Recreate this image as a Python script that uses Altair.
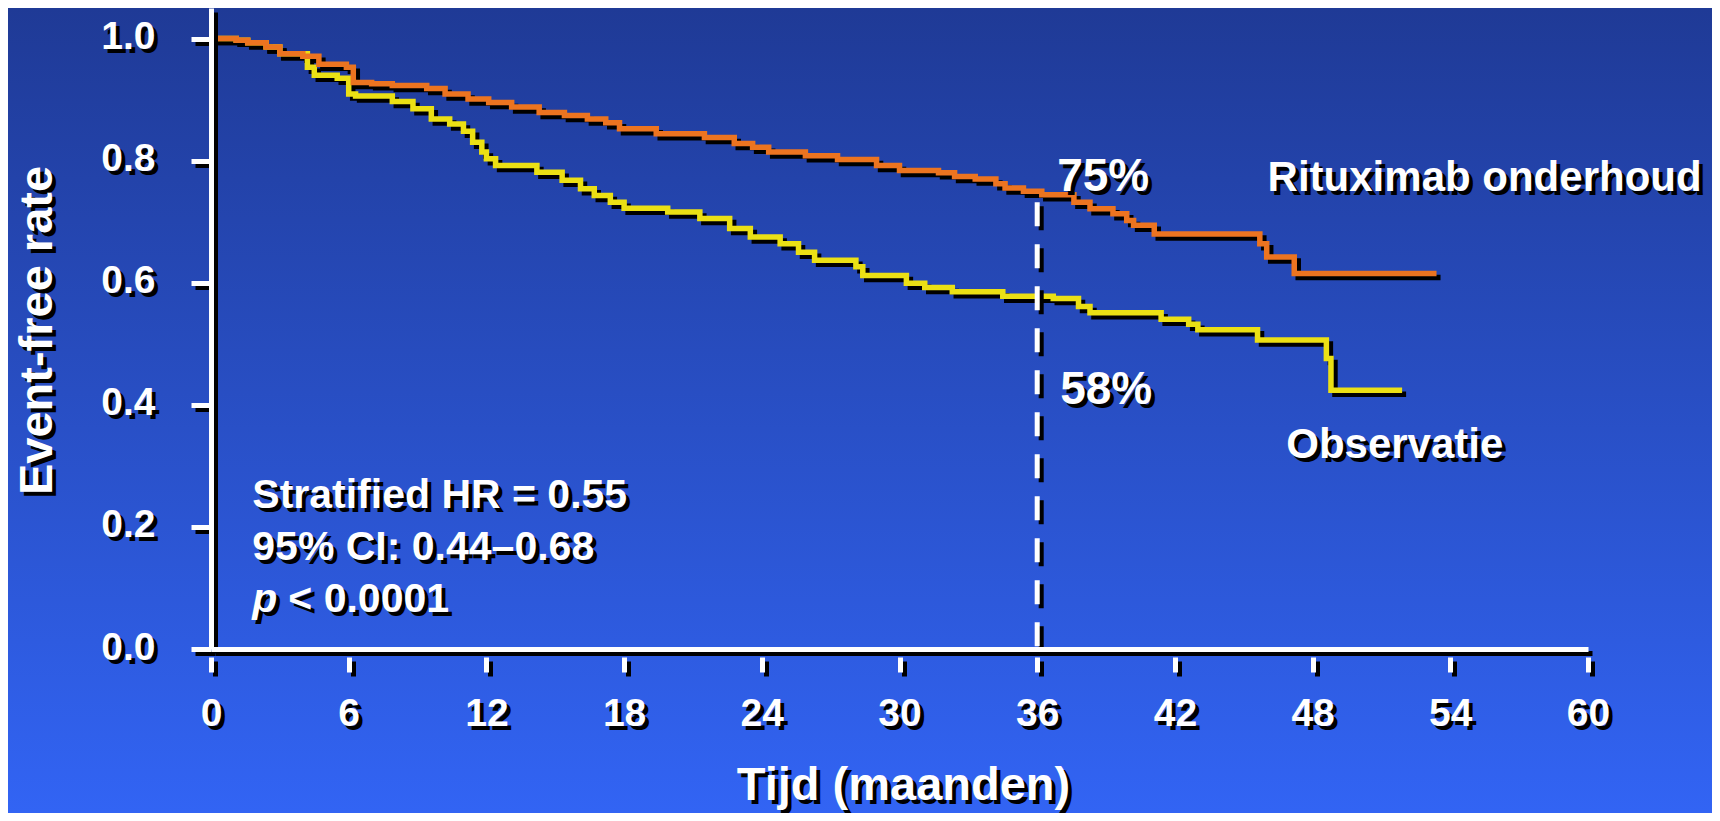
import altair as alt
import pandas as pd

# ---------------- data ----------------
x_ticks = [0, 6, 12, 18, 24, 30, 36, 42, 48, 54, 60]
y_ticks = [0.0, 0.2, 0.4, 0.6, 0.8, 1.0]

ritux_t = [0, 1.1, 1.6, 2.4, 3.0, 4.0, 4.7, 5.9, 6.2, 7.0,
           7.9, 9.4, 10.2, 11.2, 12.1, 13.1, 14.3, 15.4, 16.4, 17.2,
           17.8, 19.4, 21.5, 22.8, 23.6, 24.3, 25.9, 27.3, 29.0, 30.0,
           31.7, 32.4, 33.3, 34.2, 34.6, 35.4, 36.2, 37.6, 38.3, 39.3,
           39.9, 40.2, 41.1, 45.7, 46.0, 47.2, 53.4]
ritux_v = [1.0, 0.997, 0.993, 0.986, 0.975, 0.971, 0.958, 0.953, 0.928, 0.926,
           0.923, 0.918, 0.909, 0.901, 0.895, 0.888, 0.879, 0.874, 0.868, 0.862,
           0.852, 0.844, 0.838, 0.828, 0.822, 0.814, 0.808, 0.802, 0.792, 0.784,
           0.780, 0.774, 0.770, 0.762, 0.755, 0.750, 0.744, 0.732, 0.721, 0.713,
           0.702, 0.694, 0.680, 0.664, 0.642, 0.615, 0.615]

obs_t = [0, 1.1, 1.6, 2.4, 3.0, 4.2, 4.5, 5.5, 6.0, 6.3,
         7.9, 8.8, 9.6, 10.4, 11.0, 11.4, 11.8, 12.0, 12.4, 14.2,
         15.3, 16.1, 16.7, 17.4, 18.0, 19.9, 21.3, 22.6, 23.5, 24.8,
         25.6, 26.3, 28.1, 28.4, 30.3, 31.1, 32.3, 34.5, 36.7, 37.8,
         38.3, 41.4, 42.6, 43.0, 45.6, 48.6, 48.8, 51.9]
obs_v = [1.0, 0.997, 0.993, 0.986, 0.975, 0.953, 0.940, 0.935, 0.909, 0.906,
         0.897, 0.885, 0.868, 0.860, 0.848, 0.830, 0.814, 0.803, 0.792, 0.781,
         0.768, 0.754, 0.743, 0.732, 0.722, 0.716, 0.705, 0.689, 0.675, 0.664,
         0.650, 0.637, 0.626, 0.612, 0.599, 0.592, 0.585, 0.578, 0.574, 0.561,
         0.551, 0.540, 0.532, 0.523, 0.506, 0.476, 0.424, 0.424]

landmark_month = [36]
landmark_top = [0.732]
landmark_bottom = [0.0]

pct_labels = ["75%", "58%"]
pct_x = [36.87, 37.0]
pct_y = [0.751, 0.401]

series_labels = ["Rituximab onderhoud", "Observatie"]
series_x = [46.04, 46.85]
series_y = [0.751, 0.313]

stats_labels = ["Stratified HR = 0.55", "95% CI: 0.44\u20130.68", "< 0.0001"]
stats_x = [1.80, 1.80, 3.37]
stats_y = [0.2308, 0.1457, 0.0606]
p_label = ["p"]
p_x = [1.80]
p_y = [0.0606]

# ---------------- styling ----------------
FONT = "Liberation Sans"
ORANGE = "#ec7420"
YELLOW = "#ebe014"
W, H = 1377, 641
PAD_L, PAD_T, PAD_R, PAD_B = 203, 0, 124, 164
SH = 4  # shadow offset
LW = 5.5

xscale = alt.Scale(domain=[0, 60], nice=False, zero=False)
yscale = alt.Scale(domain=[0, 1.05], nice=False, zero=False)

lines = pd.concat([
    pd.DataFrame({"t": ritux_t, "v": ritux_v, "s": "Rituximab onderhoud"}),
    pd.DataFrame({"t": obs_t, "v": obs_v, "s": "Observatie"}),
])
ritux = pd.DataFrame({"t": ritux_t, "v": ritux_v})
obs = pd.DataFrame({"t": obs_t, "v": obs_v})


def y_axis(color, translate, z):
    return alt.Axis(
        orient="left", values=y_ticks, format=".1f",
        domainColor=color, domainWidth=5, tickColor=color, tickWidth=5, tickSize=20,
        labelColor=color, labelFont=FONT, labelFontWeight="bold", labelFontSize=39,
        labelPadding=36, labelOffset=-2, labelBound=False, labelOverlap=False, labelFlush=False,
        title="Event-free rate", titleColor=color, titleFont=FONT, titleFontWeight="bold",
        titleFontSize=47, titleAngle=270, titleBaseline="alphabetic", titleAlign="center",
        titleX=-160, titleY=322,
        grid=True, gridColor=color, gridWidth=5,
        gridOpacity={"condition": {"test": "datum.value === 0", "value": 1}, "value": 0},
        translate=translate, zindex=z,
    )


def x_axis(color, translate, z):
    return alt.Axis(
        orient="bottom", values=x_ticks, format="d", offset=8, domain=False,
        tickColor=color, tickWidth=5, tickSize=15,
        labelColor=color, labelFont=FONT, labelFontWeight="bold", labelFontSize=39,
        labelPadding=22, labelBound=False, labelOverlap=False, labelFlush=False,
        title="Tijd (maanden)", titleColor=color, titleFont=FONT, titleFontWeight="bold",
        titleFontSize=47, titleBaseline="alphabetic", titleAlign="center",
        titleX=692, titleY=142, grid=False,
        translate=translate, zindex=z,
    )


bg = alt.Chart(pd.DataFrame({"a": [0]})).mark_rect(
    color=alt.Gradient(
        gradient="linear",
        stops=[alt.GradientStop(color="#1f3a96", offset=0),
               alt.GradientStop(color="#3264f4", offset=1)],
        x1=0, x2=0, y1=0, y2=1,
    )
).encode(
    x=alt.value(-PAD_L), x2=alt.value(W + PAD_R),
    y=alt.value(-PAD_T), y2=alt.value(H + PAD_B),
)

shadow_lines = alt.Chart(lines).mark_line(
    interpolate="step-after", color="black", strokeWidth=LW, xOffset=SH, yOffset=SH
).encode(
    x=alt.X("t:Q", scale=xscale, axis=x_axis("black", SH + 0.5, 1)),
    y=alt.Y("v:Q", scale=yscale, axis=y_axis("black", SH + 0.5, 1)),
    detail="s:N",
)

obs_line = alt.Chart(obs).mark_line(
    interpolate="step-after", color=YELLOW, strokeWidth=LW
).encode(
    x=alt.X("t:Q", scale=xscale, axis=None),
    y=alt.Y("v:Q", scale=yscale, axis=None),
)

ritux_line = alt.Chart(ritux).mark_line(
    interpolate="step-after", color=ORANGE, strokeWidth=LW
).encode(
    x=alt.X("t:Q", scale=xscale, axis=x_axis("white", 0.5, 2)),
    y=alt.Y("v:Q", scale=yscale, axis=y_axis("white", 0.5, 2)),
)

rule_df = pd.DataFrame({"t": landmark_month, "top": landmark_top, "bot": landmark_bottom})
rule_enc = dict(
    x=alt.X("t:Q", scale=xscale, axis=None),
    y=alt.Y("top:Q", scale=yscale, axis=None),
    y2="bot:Q",
)
rule_shadow = alt.Chart(rule_df).mark_rule(
    color="black", strokeWidth=5, strokeDash=[24, 18],
    xOffset=SH, yOffset=SH, y2Offset=SH,
).encode(**rule_enc)
rule_main = alt.Chart(rule_df).mark_rule(
    color="white", strokeWidth=5, strokeDash=[24, 18],
).encode(**rule_enc)


def text_layers(labels, xs, ys, size, style="normal"):
    df = pd.DataFrame({"label": labels, "x": xs, "y": ys})
    base = alt.Chart(df).encode(
        x=alt.X("x:Q", scale=xscale, axis=None),
        y=alt.Y("y:Q", scale=yscale, axis=None),
        text="label:N",
    )
    kw = dict(font=FONT, fontWeight="bold", fontSize=size, fontStyle=style,
              align="left", baseline="alphabetic")
    return [base.mark_text(color="black", dx=SH, dy=SH, **kw),
            base.mark_text(color="white", **kw)]


layers = [bg, shadow_lines, obs_line, ritux_line, rule_shadow, rule_main]
layers += text_layers(pct_labels, pct_x, pct_y, 46)
layers += text_layers(series_labels, series_x, series_y, 42)
layers += text_layers(stats_labels, stats_x, stats_y, 41)
layers += text_layers(p_label, p_x, p_y, 41, "italic")

chart = alt.layer(*layers).resolve_axis(
    x="independent", y="independent"
).properties(
    width=W, height=H,
    autosize=alt.AutoSizeParams(type="none"),
    padding={"left": PAD_L, "top": PAD_T, "right": PAD_R, "bottom": PAD_B},
    background="#2a4cc4",
).configure_view(strokeWidth=0)

chart.save("out.html", embed_options={"renderer": "svg", "actions": False})
